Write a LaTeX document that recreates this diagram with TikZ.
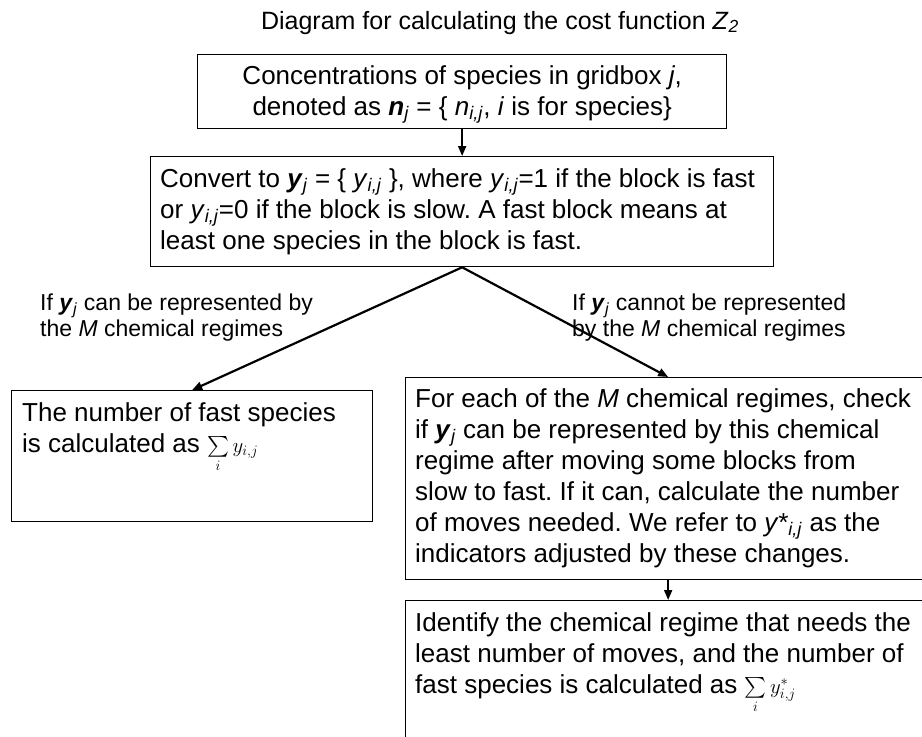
\documentclass[tikz,border=0pt]{standalone}
\usepackage{amsmath}
\usepackage{fontspec}
\setmainfont{Liberation Sans}
\usetikzlibrary{arrows.meta}
\frenchspacing
\newcommand\sbs[1]{\textsubscript{#1}}
\newcommand\bvec[1]{\textbf{\textit{#1}}}
\newcommand\sumy{{\fontsize{20}{20}\selectfont$\sum\limits_{i} y_{i,j}$}}
\newcommand\sumys{{\fontsize{20}{20}\selectfont$\sum\limits_{i} y^{*}_{i,j}$}}
\begin{document}
\begin{tikzpicture}[x=1pt,y=-1pt,
  box/.style={draw, line width=1.3pt, inner sep=0pt, anchor=north west},
  btext/.style={inner sep=0pt, anchor=north west, align=left, font=\fontsize{26}{31}\selectfont},
  lbl/.style={inner sep=0pt, anchor=north west, align=left, font=\fontsize{23}{26}\selectfont},
  arr/.style={line width=1.8pt, -{Triangle[length=10pt,width=8pt]}}]
\useasboundingbox (0,0) rectangle (922,737);
\node[anchor=base, inner sep=0pt, font=\fontsize{25}{30}\selectfont] (title) at (500,29) {Diagram for calculating the cost function \textit{Z}\sbs{\textit{2}}};

\node[box, minimum width=529pt, minimum height=74pt] (b1) at (197,54) {};
\node[btext, anchor=center, align=center] (t1) at ([yshift=-3pt]b1.center) {Concentrations of species in gridbox \textit{j},\\ denoted as \bvec{n}\sbs{\textit{j}} = \{ \textit{n}\sbs{\textit{i,j}}, \textit{i} is for species\}};

\node[box, minimum width=623pt, minimum height=110pt] (b2) at (150,156) {};
\node[btext] (t2) at ([shift={(10,12)}]b2.north west) {Convert to \bvec{y}\sbs{\textit{j}} = \{ \textit{y}\sbs{\textit{i,j}} \}, where \textit{y}\sbs{\textit{i,j}}=1 if the block is fast\\ or \textit{y}\sbs{\textit{i,j}}=0 if the block is slow. A fast block means at\\ least one species in the block is fast.};

\node[box, minimum width=361pt, minimum height=131pt] (b3) at (11,390) {};
\node[btext] (t3) at ([shift={(11,12)}]b3.north west) {The number of fast species\\ is calculated as \sumy};

\node[box, minimum width=525pt, minimum height=202pt] (b4) at (405,377) {};
\node[btext] (t4) at ([shift={(10,11)}]b4.north west) {For each of the \textit{M} chemical regimes, check\\ if \bvec{y}\sbs{\textit{j}} can be represented by this chemical\\ regime after moving some blocks from\\ slow to fast. If it can, calculate the number\\ of moves needed. We refer to \textit{y*}\sbs{\textit{i,j}} as the\\ indicators adjusted by these changes.};

\node[box, minimum width=525pt, minimum height=170pt] (b5) at (405,600) {};
\node[btext] (t5) at ([shift={(10,12)}]b5.north west) {Identify the chemical regime that needs the\\ least number of moves, and the number of\\ fast species is calculated as \sumys};

\node[lbl] (l1) at (40,294) {If \bvec{y}\sbs{\textit{j}} can be represented by\\ the \textit{M} chemical regimes};
\node[lbl] (l2) at (572,294) {If \bvec{y}\sbs{\textit{j}} cannot be represented\\ by the \textit{M} chemical regimes};

\draw[arr] (b1.south) -- (b2.north);
\draw[arr, line width=2.2pt] (b2.south) -- (b3.north);
\draw[arr, line width=2.2pt] (b2.south) -- (b4.north);
\draw[arr] (b4.south) -- (b5.north);
\end{tikzpicture}
\end{document}
